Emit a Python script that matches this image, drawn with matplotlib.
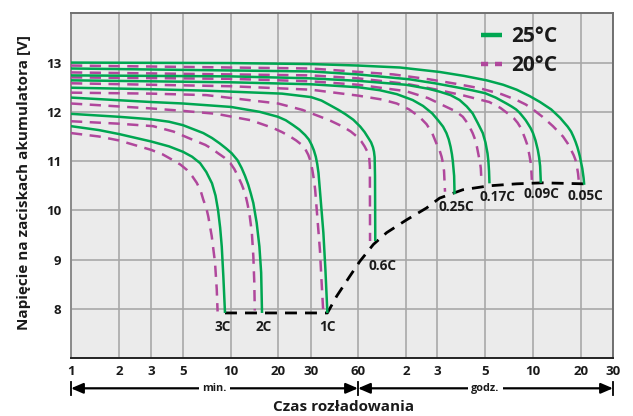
import numpy as np
import matplotlib
matplotlib.use('Agg')
import matplotlib.pyplot as plt
from matplotlib.lines import Line2D
import matplotlib.transforms as mtransforms

plt.rcParams['font.family'] = ['Open Sans', 'DejaVu Sans']
plt.rcParams['font.weight'] = 'bold'

# ---------------- axis definitions ----------------
x_ticks = [1, 2, 3, 5, 10, 20, 30, 60, 120, 180, 300, 600, 1200, 1800]   # minutes
x_tick_labels = ['1', '2', '3', '5', '10', '20', '30', '60', '2', '3', '5', '10', '20', '30']
# relative spacing of the printed (pseudo-logarithmic) grid
x_grid_pos = [0, 48, 80, 112, 160, 207, 240, 287, 335, 366, 414, 462, 510, 542]
y_ticks = [8, 9, 10, 11, 12, 13]

# ---------------- curves (time in minutes, voltage in V) ----------------
# 25 C (green, solid)
t_3c_25 = [1, 1.5, 2, 3, 4, 5, 5.7, 6.4, 7.0, 7.6, 8.0, 8.3, 8.55, 8.75, 8.95, 9.17]
v_3c_25 = [11.71, 11.63, 11.55, 11.40, 11.30, 11.19, 11.09, 10.96, 10.78, 10.55, 10.30, 10.00, 9.65, 9.27, 8.67, 7.92]
t_2c_25 = [1, 2, 3, 4, 5, 6.7, 7.6, 8.5, 9.3, 10.1, 11.0, 11.7, 12.3, 12.9, 13.4, 13.9, 14.6, 15.2, 15.6, 15.8]
v_2c_25 = [11.96, 11.90, 11.85, 11.80, 11.73, 11.57, 11.47, 11.36, 11.26, 11.16, 11.02, 10.86, 10.70, 10.52, 10.34, 10.15, 9.75, 9.27, 8.74, 7.92]
t_1c_25 = [1, 3, 5, 10, 15.3, 20, 22, 24.1, 26, 27.9, 29.2, 30.3, 31.3, 32.2, 32.9, 33.5, 34.6, 36.0, 37.1, 38.2]
v_1c_25 = [12.29, 12.20, 12.17, 12.10, 12.00, 11.90, 11.83, 11.73, 11.64, 11.53, 11.44, 11.33, 11.22, 11.09, 10.94, 10.76, 10.22, 9.55, 8.80, 7.92]
t_06c_25 = [1, 3, 7, 21, 30, 35, 40, 45, 50, 56, 62, 66, 70, 72.5, 74.5, 75.6, 76.3, 76.7, 77]
v_06c_25 = [12.49, 12.46, 12.43, 12.37, 12.30, 12.23, 12.13, 12.04, 11.95, 11.84, 11.70, 11.59, 11.46, 11.38, 11.28, 11.19, 11.08, 10.70, 9.38]
t_025c_25 = [1, 10, 30, 60, 82, 105, 131, 150, 169, 182, 192, 199, 204, 208, 211, 213, 216, 217]
v_025c_25 = [12.64, 12.60, 12.56, 12.50, 12.44, 12.36, 12.24, 12.12, 11.97, 11.83, 11.70, 11.57, 11.44, 11.29, 11.14, 11.00, 10.70, 10.33]
t_017c_25 = [1, 10, 30, 60, 120, 160, 185, 208, 229, 247, 263, 278, 293, 302, 311, 315, 318, 320]
v_017c_25 = [12.74, 12.72, 12.68, 12.63, 12.55, 12.47, 12.41, 12.34, 12.24, 12.11, 11.97, 11.77, 11.57, 11.38, 11.16, 11.00, 10.80, 10.55]
t_009c_25 = [1, 30, 60, 126, 175, 221, 260, 300, 350, 409, 440, 470, 495, 519, 540, 560, 580, 600, 622, 643, 655, 665, 672]
v_009c_25 = [12.88, 12.82, 12.76, 12.66, 12.58, 12.50, 12.44, 12.38, 12.29, 12.17, 12.11, 12.05, 11.98, 11.90, 11.83, 11.75, 11.67, 11.57, 11.42, 11.23, 11.08, 10.90, 10.56]
t_005c_25 = [1, 10, 30, 60, 110, 185, 240, 307, 390, 474, 572, 664, 780, 887, 990, 1040, 1075, 1110, 1140, 1165, 1180, 1200, 1220, 1240, 1250]
v_005c_25 = [13.00, 12.99, 12.97, 12.94, 12.90, 12.81, 12.73, 12.64, 12.55, 12.45, 12.32, 12.20, 12.05, 11.88, 11.70, 11.60, 11.50, 11.39, 11.28, 11.17, 11.10, 10.98, 10.85, 10.66, 10.52]

# 20 C (purple, dashed)
t_3c_20 = [1, 1.5, 2, 3, 3.6, 4.2, 4.8, 5.3, 5.7, 6.1, 6.45, 6.7, 7.0, 7.2, 7.57, 7.94, 8.14, 8.24]
v_3c_20 = [11.57, 11.50, 11.42, 11.23, 11.14, 11.03, 10.93, 10.82, 10.70, 10.56, 10.40, 10.22, 10.05, 9.88, 9.48, 8.94, 8.40, 7.95]
t_2c_20 = [1, 2, 3.1, 4.3, 5.5, 6.9, 7.6, 8.3, 9.1, 9.9, 10.5, 11.1, 11.7, 12.3, 12.7, 13.1, 13.6, 13.9, 14.1, 14.2]
v_2c_20 = [11.81, 11.76, 11.71, 11.60, 11.46, 11.33, 11.25, 11.16, 11.07, 10.96, 10.84, 10.69, 10.53, 10.35, 10.16, 9.95, 9.55, 9.07, 8.54, 7.97]
t_1c_20 = [1, 3, 5, 8.1, 13.4, 18.7, 21, 23.2, 25, 26.8, 28, 29.0, 29.9, 30.6, 31.3, 31.9, 32.9, 34.2, 35.0, 35.9]
v_1c_20 = [12.17, 12.07, 12.02, 11.96, 11.83, 11.67, 11.59, 11.50, 11.42, 11.33, 11.24, 11.13, 10.99, 10.82, 10.63, 10.42, 9.88, 9.21, 8.60, 7.97]
t_06c_20 = [1, 3, 7, 20, 27, 34.5, 40, 48, 54, 59, 63, 66, 68.5, 70.5, 71.2, 71.4]
v_06c_20 = [12.39, 12.37, 12.34, 12.17, 12.04, 11.90, 11.82, 11.70, 11.60, 11.50, 11.40, 11.30, 11.20, 11.09, 10.89, 9.38]
t_025c_20 = [1, 10, 30, 60, 85, 105, 125, 143, 157, 169, 180, 185, 189, 192, 194, 196]
v_025c_20 = [12.58, 12.52, 12.45, 12.33, 12.25, 12.17, 12.05, 11.90, 11.75, 11.57, 11.33, 11.22, 11.09, 10.95, 10.80, 10.38]
t_017c_20 = [1, 10, 30, 60, 120, 160, 199, 220, 237, 251, 263, 270, 275, 281, 285, 287, 289]
v_017c_20 = [12.70, 12.67, 12.62, 12.55, 12.42, 12.28, 12.10, 12.01, 11.90, 11.75, 11.57, 11.44, 11.30, 11.09, 10.95, 10.85, 10.58]
t_009c_20 = [1, 30, 60, 120, 180, 240, 319, 375, 428, 455, 480, 500, 519, 535, 550, 562, 572, 580, 585, 590]
v_009c_20 = [12.80, 12.74, 12.68, 12.57, 12.45, 12.33, 12.20, 12.08, 11.94, 11.87, 11.78, 11.69, 11.57, 11.46, 11.35, 11.22, 11.09, 10.97, 10.85, 10.62]
t_005c_20 = [1, 30, 100, 163, 220, 283, 380, 474, 540, 600, 688, 800, 925, 990, 1050, 1080, 1107, 1130, 1150, 1164]
v_005c_20 = [12.94, 12.88, 12.76, 12.66, 12.57, 12.48, 12.36, 12.24, 12.15, 12.05, 11.90, 11.71, 11.50, 11.36, 11.20, 11.12, 11.03, 10.90, 10.75, 10.58]

# end-voltage envelope (black dashed)
t_end = [9.17, 38.2, 43.8, 53.3, 61.7, 74.9, 90.8, 121, 157, 185, 237, 319, 474, 688, 1250]
v_end = [7.92, 7.92, 8.26, 8.67, 8.97, 9.31, 9.55, 9.81, 10.05, 10.25, 10.42, 10.50, 10.54, 10.56, 10.54]

rate_labels = ['3C', '2C', '1C', '0.6C', '0.25C', '0.17C', '0.09C', '0.05C']

curves_25 = [(t_3c_25, v_3c_25), (t_2c_25, v_2c_25), (t_1c_25, v_1c_25), (t_06c_25, v_06c_25),
             (t_025c_25, v_025c_25), (t_017c_25, v_017c_25), (t_009c_25, v_009c_25), (t_005c_25, v_005c_25)]
curves_20 = [(t_3c_20, v_3c_20), (t_2c_20, v_2c_20), (t_1c_20, v_1c_20), (t_06c_20, v_06c_20),
             (t_025c_20, v_025c_20), (t_017c_20, v_017c_20), (t_009c_20, v_009c_20), (t_005c_20, v_005c_20)]

GREEN = '#00A651'
PURPLE = '#B0479C'
TEXT = '#1a1a1a'

# ---------------- custom x scale ----------------
_lt = np.log10(np.array(x_ticks, float))
_gp = np.array(x_grid_pos, float)


def fwd(x):
    x = np.asarray(x, float)
    with np.errstate(divide='ignore', invalid='ignore'):
        lx = np.log10(np.where(x > 0, x, 1e-12))
    return np.interp(lx, _lt, _gp)


def inv(p):
    p = np.asarray(p, float)
    return 10 ** np.interp(p, _gp, _lt)


fig = plt.figure(figsize=(6.33, 4.16), dpi=100)
ax = fig.add_axes([71 / 633, 57.7 / 416, 542 / 633, 345 / 416])
ax.set_facecolor('#EBEBEB')
ax.set_xscale('function', functions=(fwd, inv))
ax.set_xlim(x_ticks[0], x_ticks[-1])
ax.set_ylim(7, 14)

ax.set_xticks(x_ticks)
ax.set_xticklabels(x_tick_labels)
ax.set_yticks(y_ticks)
ax.tick_params(axis='both', length=0, labelsize=9.5, colors=TEXT)
ax.tick_params(axis='x', pad=5)
ax.tick_params(axis='y', pad=7)
for lab in ax.get_xticklabels() + ax.get_yticklabels():
    lab.set_fontweight('bold')
ax.grid(True, color='#A8A8A8', lw=1.2)
ax.set_axisbelow(True)

for side in ['top', 'right']:
    ax.spines[side].set_color('#707070')
    ax.spines[side].set_linewidth(1.4)
ax.spines['left'].set_color('#8a8a8a')
ax.spines['left'].set_linewidth(1.4)
ax.spines['bottom'].set_color('#222222')
ax.spines['bottom'].set_linewidth(1.4)

# envelope
ax.plot(t_end, v_end, color='black', lw=2.0, dashes=(4.3, 2.9), zorder=2)

for t, v in curves_20:
    ax.plot(t, v, color=PURPLE, lw=1.8, dashes=(4.5, 3.0), zorder=3)
for t, v in curves_25:
    ax.plot(t, v, color=GREEN, lw=1.8, zorder=4, solid_capstyle='butt')

label_offsets = [(-2, -10), (1.5, -10), (0, -10), (5, -18), (1, -9.5), (6, -9.5), (0.5, -8), (0.5, -8)]
for (t, v), name, off in zip(curves_25, rate_labels, label_offsets):
    ax.annotate(name, xy=(t[-1], v[-1]), xytext=off, textcoords='offset points',
                ha='center', va='center', fontsize=9.8, fontweight='bold', color=TEXT, zorder=6)

# legend
handles = [Line2D([], [], color=GREEN, lw=3.2, solid_capstyle='butt'),
           Line2D([], [], color=PURPLE, lw=3.2, dashes=(1.6, 1.55), dash_capstyle='butt')]
leg = ax.legend(handles, ['25°C', '20°C'], loc='upper left', bbox_to_anchor=(0.756, 0.962),
                frameon=False, fontsize=15, handlelength=1.02, handletextpad=0.45,
                labelspacing=0.38, borderpad=0, borderaxespad=0)
for txt in leg.get_texts():
    txt.set_fontweight('bold')
    txt.set_color(TEXT)

# axis labels
ax.set_ylabel('Napięcie na zaciskach akumulatora [V]', fontsize=11, fontweight='bold', color=TEXT)
ax.yaxis.set_label_coords(-0.074, 0.51)
ax.set_xlabel('Czas rozładowania', fontsize=11, fontweight='bold', color=TEXT)
ax.xaxis.set_label_coords(0.502, -0.12)

# min / godz. arrows
blend = mtransforms.blended_transform_factory(ax.transData, ax.transAxes)
y_arr = -0.087
arrow_style = '<|-|>,head_length=0.72,head_width=0.31'
for a, b, txt in [(x_ticks[0], 60, 'min.'), (60, x_ticks[-1], 'godz.')]:
    ax.annotate('', xy=(a, y_arr), xycoords=blend, xytext=(b, y_arr), textcoords=blend,
                arrowprops=dict(arrowstyle=arrow_style, color='black', lw=1.6,
                                shrinkA=0, shrinkB=0, mutation_scale=10),
                annotation_clip=False)
    mid = inv((fwd(a) + fwd(b)) / 2)
    ax.text(float(mid), y_arr, txt, transform=blend, ha='center', va='center', fontsize=7.8,
            fontweight='bold', color=TEXT,
            bbox=dict(facecolor='white', edgecolor='none', pad=2.5), clip_on=False, zorder=5)
for xv in [x_ticks[0], 60, x_ticks[-1]]:
    ax.plot([xv, xv], [y_arr - 0.019, y_arr + 0.019], transform=blend, color='black', lw=1.3,
            clip_on=False)

fig.savefig('out.png', dpi=100, facecolor='white')
